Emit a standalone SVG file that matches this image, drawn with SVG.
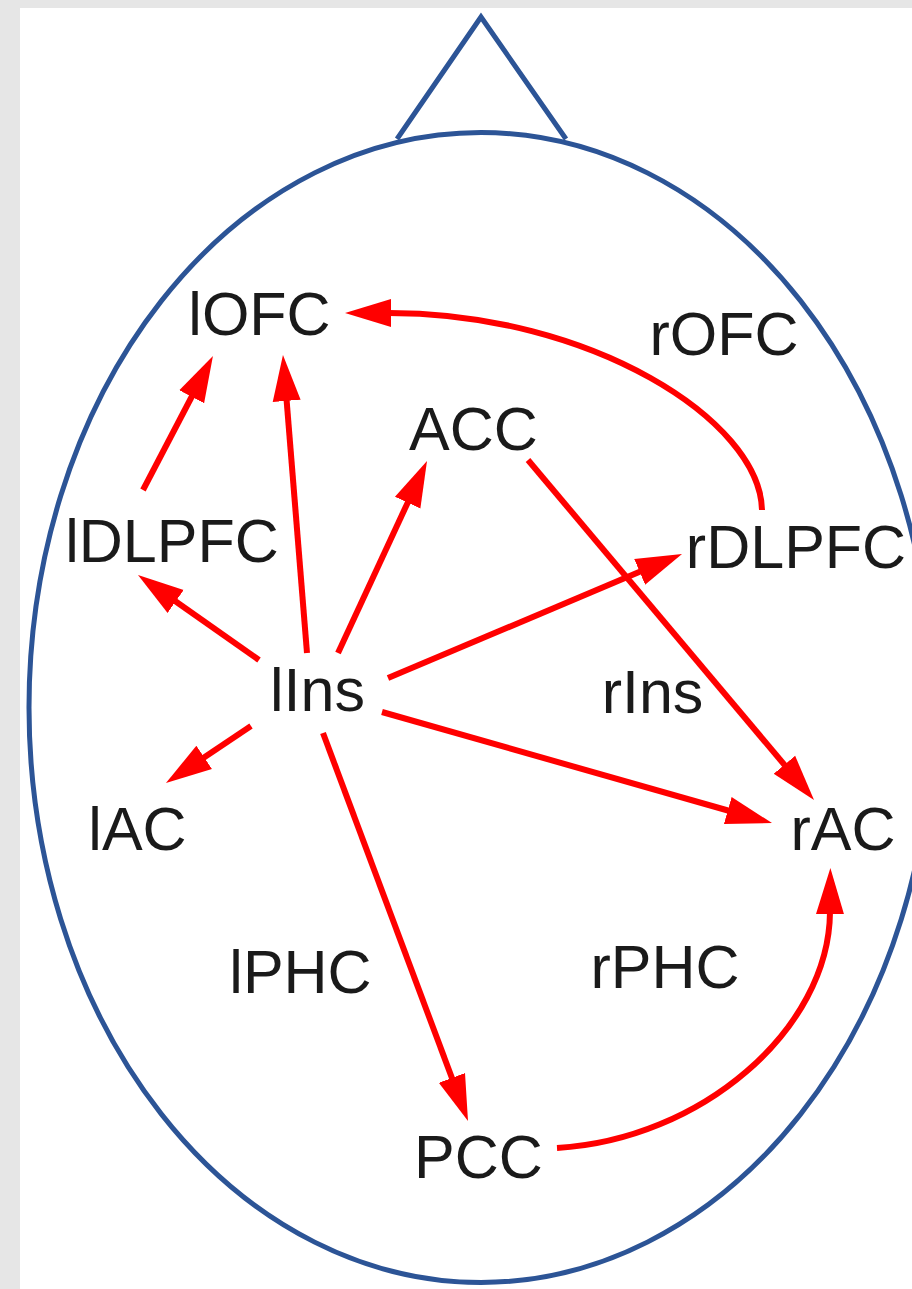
<svg xmlns="http://www.w3.org/2000/svg" width="912" height="1289" viewBox="0 0 912 1289">
  <style>
    .lbl { font-family: "Liberation Sans", Arial, sans-serif; font-size: 61px; fill: #1a1a1a; text-anchor: middle; }
    .edge { fill: none; stroke: #ff0000; stroke-width: 6; marker-end: url(#ah); }
    .outline { fill: none; stroke: #2c5496; stroke-width: 5; }
  </style>
  <defs>
    <marker id="ah" markerUnits="userSpaceOnUse" markerWidth="48" markerHeight="30" refX="2" refY="15" orient="auto">
      <path d="M0,1 L46,15 L0,29 z" fill="#ff0000"/>
    </marker>
  </defs>
  <rect x="0" y="0" width="912" height="1289" fill="#e6e6e6"/>
  <rect x="20" y="8" width="892" height="1281" fill="#ffffff"/>

  <g id="head">
    <ellipse class="outline" cx="481" cy="707.5" rx="452" ry="575"/>
    <polyline class="outline" points="397,139 481,17 566,139" stroke-linejoin="miter"/>
  </g>

  <g id="connectors">
    <path class="edge" d="M143,490 L192.6,395"/>
    <path class="edge" d="M307,653 L286.5,398.9"/>
    <path class="edge" d="M338,653 L408.5,500.9"/>
    <path class="edge" d="M259,660 L174,600.3"/>
    <path class="edge" d="M251,726 L202.5,758.5"/>
    <path class="edge" d="M323,733 L452.6,1079.8"/>
    <path class="edge" d="M388,678 L641.5,571.1"/>
    <path class="edge" d="M382,712 L729.7,811"/>
    <path class="edge" d="M528,460 L785.7,766.3"/>
    <path class="edge" d="M762,510 C760,420 590,313 389,313"/>
    <path class="edge" d="M557,1148 C700,1140 829,1030 830,912"/>
  </g>

  <g id="lOFC"><text class="lbl" x="259.5" y="335">lOFC</text></g>
  <g id="rOFC"><text class="lbl" x="724" y="355">rOFC</text></g>
  <g id="ACC"><text class="lbl" x="473.5" y="450">ACC</text></g>
  <g id="lDLPFC"><text class="lbl" x="172" y="562">lDLPFC</text></g>
  <g id="rDLPFC"><text class="lbl" x="796" y="568">rDLPFC</text></g>
  <g id="lIns"><text class="lbl" x="317.5" y="711">lIns</text></g>
  <g id="rIns"><text class="lbl" x="652.5" y="713">rIns</text></g>
  <g id="lAC"><text class="lbl" x="137.5" y="850">lAC</text></g>
  <g id="rAC"><text class="lbl" x="843" y="850">rAC</text></g>
  <g id="lPHC"><text class="lbl" x="300.5" y="993">lPHC</text></g>
  <g id="rPHC"><text class="lbl" x="665" y="988">rPHC</text></g>
  <g id="PCC"><text class="lbl" x="478.5" y="1178">PCC</text></g>
</svg>
